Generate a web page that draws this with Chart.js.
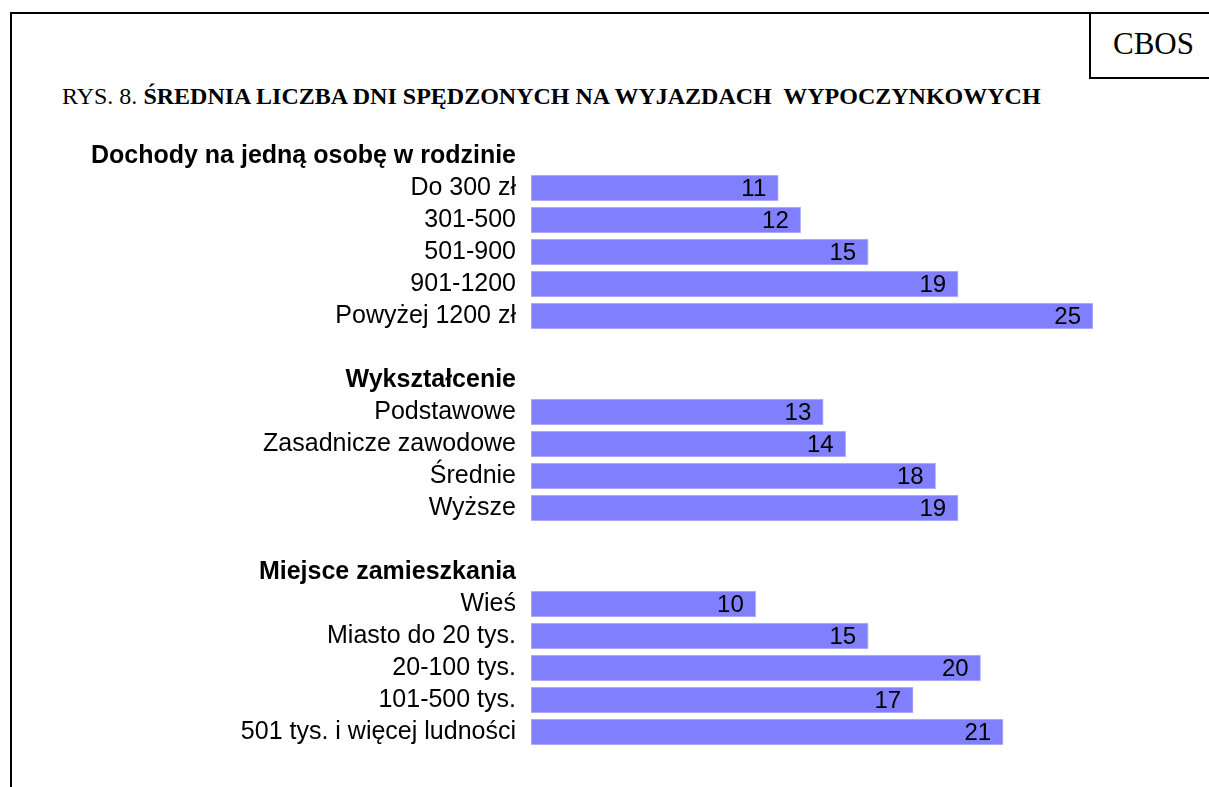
<!DOCTYPE html>
<html>
<head>
<meta charset="utf-8">
<script src="https://cdn.jsdelivr.net/npm/chart.js@4.4.1/dist/chart.umd.min.js"></script>
<style>
  body { margin: 0; background: #fff; width: 1209px; height: 787px; overflow: hidden; position: relative; }
  .line { position: absolute; background: #000; }
  #title { position: absolute; left: 62px; top: 84px; font-family: "Liberation Serif", "Times New Roman", serif; font-size: 24px; line-height: 24px; white-space: pre; color: #000; }
  #title b { font-weight: bold; }
  #cbos { position: absolute; left: 1113px; top: 28px; font-family: "Liberation Serif", "Times New Roman", serif; font-size: 31px; line-height: 31px; color: #000; }
  #wrap { position: absolute; left: 0; top: 140px; width: 1209px; height: 608px; }
</style>
</head>
<body>
<div class="line" style="left:10px;top:12px;width:2px;height:780px"></div>
<div class="line" style="left:10px;top:12px;width:1199px;height:2px"></div>
<div class="line" style="left:1089px;top:12px;width:2px;height:67px"></div>
<div class="line" style="left:1089px;top:77px;width:120px;height:2px"></div>
<div id="cbos">CBOS</div>
<div id="title">RYS. 8. <b>ŚREDNIA LICZBA DNI SPĘDZONYCH NA WYJAZDACH  WYPOCZYNKOWYCH</b></div>
<div id="wrap"><canvas id="chart"></canvas></div>
<script>
// --- Data ---
const groupTitles = ['Dochody na jedną osobę w rodzinie', 'Wykształcenie', 'Miejsce zamieszkania'];

const incomeLabels = ['Do 300 zł', '301-500', '501-900', '901-1200', 'Powyżej 1200 zł'];
const incomeValues = [11, 12, 15, 19, 25];

const educationLabels = ['Podstawowe', 'Zasadnicze zawodowe', 'Średnie', 'Wyższe'];
const educationValues = [13, 14, 18, 19];

const placeLabels = ['Wieś', 'Miasto do 20 tys.', '20-100 tys.', '101-500 tys.', '501 tys. i więcej ludności'];
const placeValues = [10, 15, 20, 17, 21];

const xMax = 25;

// build rows: group header, items, blank spacer between groups
const groups = [
  [incomeLabels, incomeValues],
  [educationLabels, educationValues],
  [placeLabels, placeValues]
];
const labels = [];
const values = [];
const headerRows = [];
groups.forEach((g, i) => {
  if (i > 0) { labels.push(''); values.push(null); }
  headerRows.push(labels.length);
  labels.push(groupTitles[i]);
  values.push(null);
  g[0].forEach((l, j) => { labels.push(l); values.push(g[1][j]); });
});

const FONT = '"Liberation Sans", Arial, sans-serif';

// numbers drawn inside the bar end
const valueLabels = {
  id: 'valueLabels',
  afterDatasetsDraw(chart) {
    const ctx = chart.ctx;
    const meta = chart.getDatasetMeta(0);
    ctx.save();
    ctx.font = '24px ' + FONT;
    ctx.fillStyle = '#000';
    ctx.textAlign = 'right';
    ctx.textBaseline = 'middle';
    meta.data.forEach((bar, i) => {
      const v = values[i];
      if (v === null) return;
      ctx.fillText(String(v), bar.x - 12, bar.y + 1);
    });
    ctx.restore();
  }
};

new Chart(document.getElementById('chart'), {
  type: 'bar',
  data: {
    labels: labels,
    datasets: [{
      data: values,
      backgroundColor: '#8080ff',
      borderColor: '#b8b8ff',
      borderWidth: 1,
      borderSkipped: false,
      barThickness: 26
    }]
  },
  options: {
    indexAxis: 'y',
    responsive: true,
    maintainAspectRatio: false,
    animation: false,
    layout: { padding: { left: 0, right: 116, top: 0, bottom: 0 } },
    plugins: { legend: { display: false }, tooltip: { enabled: false } },
    scales: {
      x: { display: false, min: 0, max: xMax },
      y: {
        afterFit(scale) {
          scale.width = 531;
          // let the rows fill the whole canvas height
          scale.paddingTop = 0;
          scale.paddingBottom = 0;
        },
        grid: { display: false, drawTicks: false },
        border: { display: false },
        ticks: {
          autoSkip: false,
          padding: 15,
          color: '#000',
          font: (c) => ({
            family: FONT,
            size: 25,
            weight: headerRows.includes(c.index) ? 'bold' : 'normal'
          })
        }
      }
    }
  },
  plugins: [valueLabels]
});
</script>
</body>
</html>
